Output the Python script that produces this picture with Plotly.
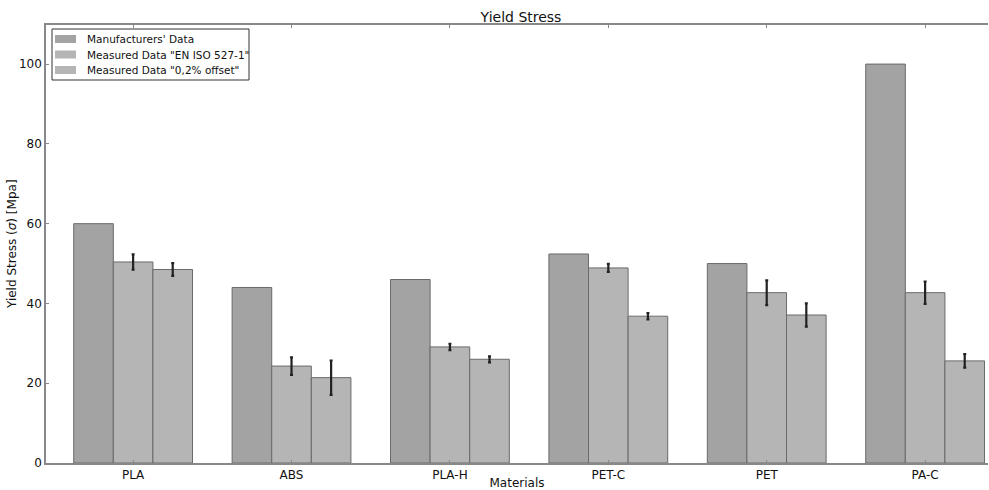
import plotly.graph_objects as go

materials = ["PLA", "ABS", "PLA-H", "PET-C", "PET", "PA-C"]
manufacturer = [60, 44, 46, 52.4, 50, 100]
measured_iso = [50.4, 24.3, 29.1, 48.9, 42.7, 42.7]
measured_iso_err = [1.9, 2.2, 0.8, 1.0, 3.1, 2.8]
measured_offset = [48.5, 21.4, 26.0, 36.8, 37.1, 25.6]
measured_offset_err = [1.6, 4.3, 0.75, 0.8, 2.9, 1.7]
y_ticks = [0, 20, 40, 60, 80, 100]

x = list(range(len(materials)))
edge = dict(color="#6a6a6a", width=1)
err_style = dict(type="data", color="#222222", thickness=2.2, width=1.5)

fig = go.Figure()
fig.add_trace(go.Bar(x=x, y=manufacturer, name="Manufacturers' Data",
                     marker=dict(color="#a3a3a3", line=edge)))
fig.add_trace(go.Bar(x=x, y=measured_iso, name='Measured Data "EN ISO 527-1"',
                     marker=dict(color="#b5b5b5", line=edge),
                     error_y=dict(array=measured_iso_err, **err_style)))
fig.add_trace(go.Bar(x=x, y=measured_offset, name='Measured Data "0,2% offset"',
                     marker=dict(color="#b5b5b5", line=edge),
                     error_y=dict(array=measured_offset_err, **err_style)))

W, H = 989, 490
L, R, T, B = 46, 1, 25, 27
plot_w, plot_h = W - L - R, H - T - B


def px_x(p):
    return (p - L) / plot_w


def px_y(p):
    return (H - B - p) / plot_h


# compact matplotlib-like legend box in the upper-left corner
shapes = [dict(type="rect", xref="paper", yref="paper",
               x0=px_x(52), x1=px_x(249), y0=px_y(80), y1=px_y(29),
               line=dict(color="#333333", width=1), fillcolor="white",
               layer="above")]
annotations = []
for i, tr in enumerate(fig.data):
    cy = 39 + i * 15.5
    shapes.append(dict(type="rect", xref="paper", yref="paper",
                       x0=px_x(55), x1=px_x(76), y0=px_y(cy + 4),
                       y1=px_y(cy - 4), fillcolor=tr.marker.color,
                       line=dict(width=0), layer="above"))
    annotations.append(dict(text=tr.name, xref="paper", yref="paper",
                            x=px_x(85), y=px_y(cy), xanchor="left",
                            yanchor="middle", showarrow=False,
                            font=dict(size=10.5, color="#111111")))

# y-axis title
annotations.append(dict(text="Yield Stress (<i>σ</i>) [Mpa]", xref="paper",
                        yref="paper", x=px_x(12), y=0.5, textangle=-90,
                        xanchor="center", yanchor="middle", showarrow=False,
                        font=dict(size=12, color="#111111")))

font = "DejaVu Sans, Verdana, sans-serif"
fig.update_layout(
    width=W, height=H,
    margin=dict(l=L, r=R, t=T, b=B, autoexpand=False),
    paper_bgcolor="white", plot_bgcolor="white",
    barmode="group", bargap=0.25, bargroupgap=0,
    font=dict(family=font, size=12, color="#111111"),
    title=dict(text="Yield Stress", x=(521 / W), xanchor="center",
               y=1 - 17 / H, yanchor="middle", font=dict(size=14)),
    showlegend=False,
    shapes=shapes, annotations=annotations,
    xaxis=dict(range=[-0.55, 5.397], tickvals=x, ticktext=materials,
               showgrid=False, zeroline=False, showline=True,
               linecolor="#888888", linewidth=1.5, ticks="inside",
               ticklen=3, tickcolor="#888888", automargin=False,
               title=dict(text="Materials", standoff=0, font=dict(size=12))),
    yaxis=dict(range=[0, 109.8], tickvals=y_ticks, showgrid=False,
               zeroline=False, showline=True, linecolor="#888888",
               linewidth=1.5, ticks="inside", ticklen=3, tickcolor="#888888",
               automargin=False),
    xaxis2=dict(overlaying="x", side="top", range=[-0.55, 5.397],
                tickvals=x, showticklabels=False, ticks="inside", ticklen=3,
                tickcolor="#888888", showgrid=False, zeroline=False,
                showline=True, linecolor="#888888", linewidth=1.5,
                automargin=False),
)
# invisible trace to bring the top axis into view
fig.add_trace(go.Scatter(x=[0], y=[0], xaxis="x2", mode="markers",
                         marker=dict(opacity=0), showlegend=False,
                         hoverinfo="skip"))

fig.write_html("out.html")
